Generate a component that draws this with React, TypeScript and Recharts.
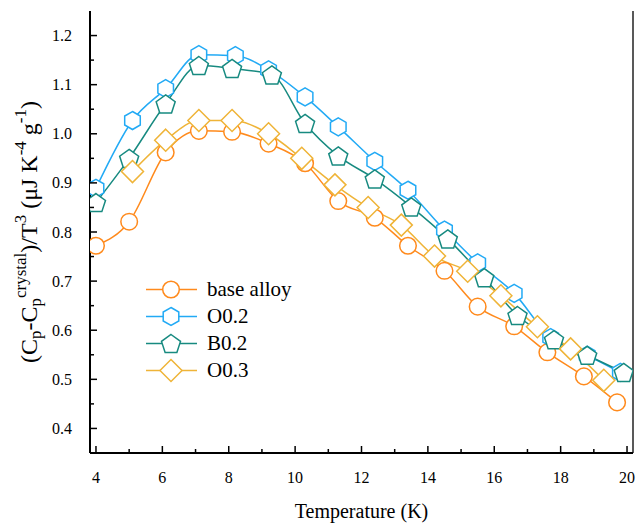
import React from 'react';
import { LineChart, Line, XAxis, YAxis, Legend, Label } from 'recharts';

// temperature (K) and (Cp - Cp_crystal)/T^3
const baseT = [4.0, 5.0, 6.1, 7.1, 8.1, 9.2, 10.3, 11.3, 12.4, 13.4, 14.5, 15.5, 16.6, 17.6, 18.7, 19.7];
const baseV = [0.772, 0.821, 0.962, 1.006, 1.004, 0.98, 0.94, 0.863, 0.829, 0.772, 0.721, 0.648, 0.608, 0.555, 0.506, 0.453];

const o02T = [4.0, 5.1, 6.1, 7.1, 8.2, 9.2, 10.3, 11.3, 12.4, 13.4, 14.5, 15.5, 16.6, 17.7, 18.8, 19.8];
const o02V = [0.889, 1.027, 1.092, 1.161, 1.159, 1.13, 1.075, 1.014, 0.944, 0.885, 0.804, 0.737, 0.675, 0.585, 0.549, 0.514];

const b02T = [4.0, 5.0, 6.1, 7.1, 8.1, 9.3, 10.3, 11.3, 12.4, 13.5, 14.6, 15.7, 16.7, 17.8, 18.8, 19.9];
const b02V = [0.86, 0.95, 1.061, 1.139, 1.133, 1.12, 1.021, 0.955, 0.908, 0.851, 0.786, 0.707, 0.63, 0.581, 0.549, 0.514];

const o03T = [5.1, 6.1, 7.1, 8.1, 9.2, 10.2, 11.2, 12.2, 13.2, 14.2, 15.2, 16.2, 17.3, 18.3, 19.3];
const o03V = [0.923, 0.987, 1.027, 1.027, 1.0, 0.95, 0.896, 0.85, 0.814, 0.751, 0.72, 0.67, 0.607, 0.562, 0.498];

const xTicks = [4, 5, 6, 7, 8, 9, 10, 11, 12, 13, 14, 15, 16, 17, 18, 19, 20];
const yTicks = [0.4, 0.45, 0.5, 0.55, 0.6, 0.65, 0.7, 0.75, 0.8, 0.85, 0.9, 0.95, 1.0, 1.05, 1.1, 1.15, 1.2];

const FONT = 'Liberation Serif';

type Shape = 'circle' | 'hexagon' | 'pentagon' | 'diamond';

const series = [
  { name: 'base alloy', t: baseT, v: baseV, color: '#FF8A1C', shape: 'circle' as Shape },
  { name: 'O0.2', t: o02T, v: o02V, color: '#22AAF5', shape: 'hexagon' as Shape },
  { name: 'B0.2', t: b02T, v: b02V, color: '#178A80', shape: 'pentagon' as Shape },
  { name: 'O0.3', t: o03T, v: o03V, color: '#EFB438', shape: 'diamond' as Shape },
];

function polygon(cx: number, cy: number, r: number, n: number, start: number) {
  const pts: string[] = [];
  for (let k = 0; k < n; k++) {
    const a = ((start + (360 / n) * k) * Math.PI) / 180;
    pts.push(`${cx + r * Math.cos(a)},${cy + r * Math.sin(a)}`);
  }
  return pts.join(' ');
}

function Marker({ cx, cy, shape, color }: { cx: number; cy: number; shape: Shape; color: string }) {
  const common = { fill: '#fff', stroke: color, strokeWidth: 1.5 };
  if (shape === 'circle') return <circle cx={cx} cy={cy} r={8.3} {...common} />;
  if (shape === 'hexagon') return <polygon points={polygon(cx, cy, 9, 6, -90)} {...common} />;
  if (shape === 'pentagon') return <polygon points={polygon(cx, cy + 1, 10, 5, -90)} {...common} />;
  return <polygon points={polygon(cx, cy, 11, 4, -90)} {...common} />;
}

const XTick = (props: any) => {
  const { x, y, payload } = props;
  const v = payload.value;
  const major = v % 2 === 0;
  return (
    <g>
      <line x1={x} x2={x} y1={y} y2={y - (major ? 7 : 4)} stroke="#000" strokeWidth={1.5} />
      {major && (
        <text x={x} y={y + 30} textAnchor="middle" fontSize={16} style={{ fontFamily: FONT }} fill="#000">
          {v}
        </text>
      )}
    </g>
  );
};

const YTick = (props: any) => {
  const { x, y, payload } = props;
  const v = payload.value;
  const major = Math.abs(v * 10 - Math.round(v * 10)) < 1e-6;
  return (
    <g>
      <line x1={x} x2={x + (major ? 7 : 4)} y1={y} y2={y} stroke="#000" strokeWidth={1.5} />
      {major && (
        <text x={x - 18} y={y} dy="0.35em" textAnchor="end" fontSize={16} style={{ fontFamily: FONT }} fill="#000">
          {v.toFixed(1)}
        </text>
      )}
    </g>
  );
};

const YTitle = (props: any) => {
  const vb = props.viewBox;
  const cx = 29;
  const cy = vb.y + vb.height / 2;
  const s = 17;
  return (
    <text
      x={cx}
      y={cy}
      transform={`rotate(-90, ${cx}, ${cy})`}
      textAnchor="middle"
      dominantBaseline="central"
      fontSize={24}
      style={{ fontFamily: FONT }}
      fill="#000"
    >
      (C
      <tspan dy={6} fontSize={s}>p</tspan>
      <tspan dy={-6}>-C</tspan>
      <tspan dy={6} fontSize={s}>p</tspan>
      <tspan dy={-15} fontSize={s}>crystal</tspan>
      <tspan dy={9}>)/T</tspan>
      <tspan dy={-9} fontSize={s}>3</tspan>
      <tspan dy={9}> (μJ K</tspan>
      <tspan dy={-9} fontSize={s}>-4</tspan>
      <tspan dy={9}> g</tspan>
      <tspan dy={-9} fontSize={s}>-1</tspan>
      <tspan dy={9}>)</tspan>
    </text>
  );
};

const XTitle = (props: any) => {
  const vb = props.viewBox;
  return (
    <text x={vb.x + vb.width / 2} y={vb.y + 65} textAnchor="middle" fontSize={20} style={{ fontFamily: FONT }} fill="#000">
      Temperature (K)
    </text>
  );
};

const LegendBox = () => (
  <div style={{ fontFamily: FONT, fontSize: 21, color: '#000' }}>
    {series.map((s) => (
      <div key={s.name} style={{ display: 'flex', alignItems: 'center', height: 27 }}>
        <svg width={52} height={27}>
          <line x1={0} x2={51} y1={13.5} y2={13.5} stroke={s.color} strokeWidth={1.5} />
          <Marker cx={25} cy={13.5} shape={s.shape} color={s.color} />
        </svg>
        <span style={{ marginLeft: 9, lineHeight: '27px', fontFamily: FONT }}>{s.name}</span>
      </div>
    ))}
  </div>
);

export default function App() {
  return (
    <div style={{ position: 'absolute', left: 0, top: 0, width: 636, height: 524, background: '#fff', fontFamily: FONT }}>
      <LineChart width={636} height={524} margin={{ top: 11, right: 2, left: 0, bottom: 0 }} style={{ fontFamily: FONT }}>
        <XAxis
          xAxisId="top"
          orientation="top"
          type="number"
          domain={[3.82, 20.18]}
          height={0}
          tick={false}
          tickLine={false}
          axisLine={{ stroke: '#222', strokeWidth: 1.5 }}
        />
        <YAxis
          yAxisId="right"
          orientation="right"
          type="number"
          domain={[0.35, 1.25]}
          width={1}
          tick={false}
          tickLine={false}
          axisLine={{ stroke: '#222', strokeWidth: 1.5 }}
        />
        <XAxis
          dataKey="t"
          type="number"
          domain={[3.82, 20.18]}
          ticks={xTicks}
          interval={0}
          height={71}
          tickSize={0}
          tickMargin={0}
          tickLine={false}
          tick={<XTick />}
          axisLine={{ stroke: '#000', strokeWidth: 2 }}
          allowDataOverflow
        >
          <Label content={<XTitle />} />
        </XAxis>
        <YAxis
          type="number"
          domain={[0.35, 1.25]}
          ticks={yTicks}
          interval={0}
          width={90}
          tickSize={0}
          tickMargin={0}
          tickLine={false}
          tick={<YTick />}
          axisLine={{ stroke: '#000', strokeWidth: 2 }}
          allowDataOverflow
        >
          <Label content={<YTitle />} />
        </YAxis>
        <Legend
          layout="vertical"
          align="center"
          verticalAlign="middle"
          content={<LegendBox />}
          wrapperStyle={{ left: 146, top: 276, width: 200 }}
        />
        {series.map((s) => (
          <Line
            key={s.name}
            data={s.t.map((t, i) => ({ t, v: s.v[i] }))}
            dataKey="v"
            name={s.name}
            type="monotone"
            stroke={s.color}
            strokeWidth={1.5}
            isAnimationActive={false}
            dot={(p: any) => (
              <Marker key={`${s.name}-${p.index}`} cx={p.cx} cy={p.cy} shape={s.shape} color={s.color} />
            )}
            activeDot={false}
          />
        ))}
      </LineChart>
    </div>
  );
}
